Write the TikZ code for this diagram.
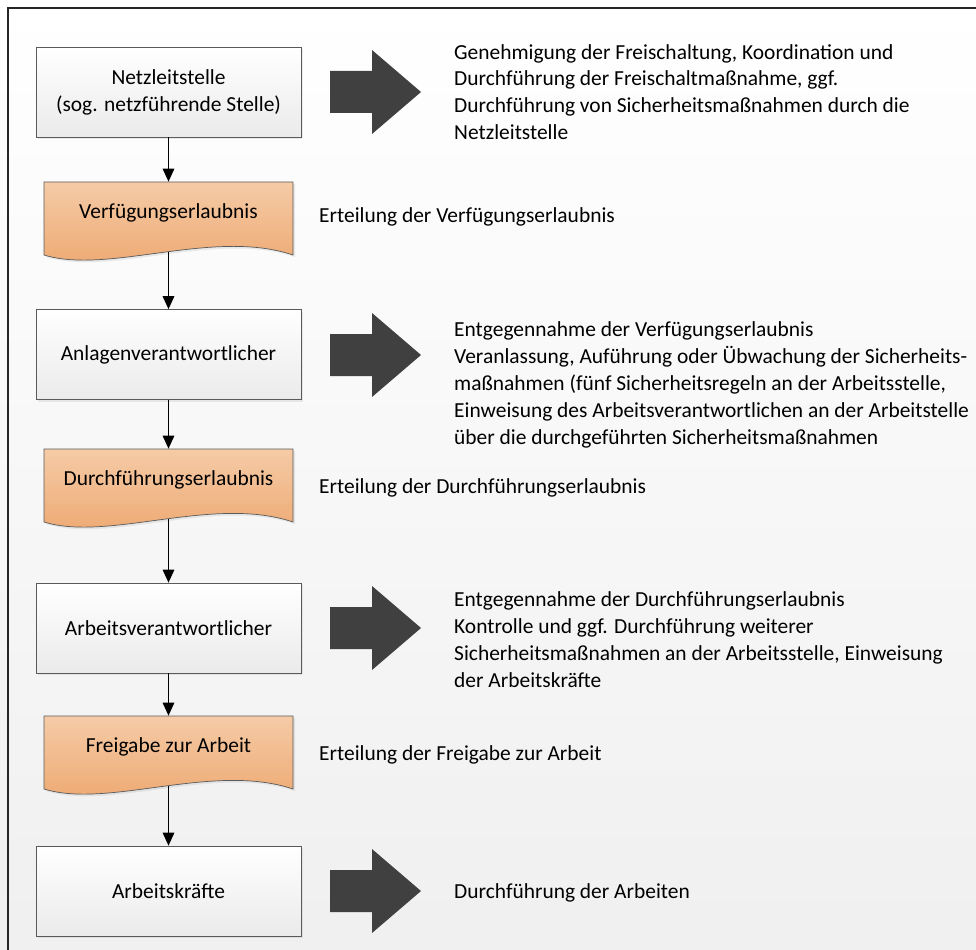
\documentclass[tikz,border=0pt]{standalone}
\usepackage{fontspec}
\setmainfont{Carlito}
\usetikzlibrary{arrows.meta, calc, shadows}

\definecolor{boxline}{HTML}{5A5A5A}
\definecolor{docTop}{HTML}{F5CBA7}
\definecolor{docBot}{HTML}{EDA66D}
\definecolor{bigarrow}{HTML}{404040}

\begin{document}
\begin{tikzpicture}[x=0.02cm, y=-0.02cm, >={Triangle[length=7.4pt, width=6.6pt]},
    stepbox/.style={draw=boxline, top color=white, bottom color=black!8,
        minimum width=5.3cm, minimum height=1.8cm, align=center,
        font=\fontsize{12.2}{15.3}\selectfont,
        drop shadow={shadow xshift=1.2pt, shadow yshift=-1.2pt, opacity=0.15}},
    doc/.style={draw=boxline, top color=docTop, bottom color=docBot,
        drop shadow={shadow xshift=1.2pt, shadow yshift=-1.2pt, opacity=0.15}},
    doctext/.style={minimum width=4.98cm, minimum height=1.24cm,
        font=\fontsize{12.2}{15.3}\selectfont},
    note/.style={anchor=west, align=left, font=\fontsize{12.2}{15.3}\selectfont},
    flow/.style={->, line width=0.75pt}]

    \useasboundingbox (0,0) rectangle (976,949);
    \fill[top color=white, bottom color=black!6] (0,0) rectangle (976,949);
    \draw[line width=1.2pt, black!85] (8,960) -- (8,8) -- (990,8);

    % Schritte
    \node[stepbox] (netz) at (168.5,92) {Netzleitstelle\\(sog. netzführende Stelle)};
    \node[stepbox] (anlage) at (168.5,354.5) {Anlagenverantwortlicher};
    \node[stepbox] (arbeitv) at (168.5,628) {Arbeitsverantwortlicher};
    \node[stepbox] (kraefte) at (168.5,891) {Arbeitskräfte};

    % Dokumente
    \foreach \t in {182, 449, 716}
        \path[doc] (44,\t) -- (293,\t) -- (293,\t+73)
            .. controls +(-80,-27) and +(65,20) .. (44,\t+73) -- cycle;
    \node[doctext] (verf) at (168.5,213) {Verfügungserlaubnis};
    \node[doctext] (durch) at (168.5,480) {Durchführungserlaubnis};
    \node[doctext] (freigabe) at (168.5,747) {Freigabe zur Arbeit};
    \coordinate (verf-w) at ($(verf.south)+(0,8)$);
    \coordinate (durch-w) at ($(durch.south)+(0,8)$);
    \coordinate (freigabe-w) at ($(freigabe.south)+(0,8)$);

    % Verbindungen
    \draw[flow] (netz.south) -- (verf.north);
    \draw[flow] (verf-w) -- (anlage.north);
    \draw[flow] (anlage.south) -- (durch.north);
    \draw[flow] (durch-w) -- (arbeitv.north);
    \draw[flow] (arbeitv.south) -- (freigabe.north);
    \draw[flow] (freigabe-w) -- (kraefte.north);

    % Blockpfeile
    \foreach \c in {92, 355, 628, 891}
        \fill[bigarrow] (330,\c-21) -- (372,\c-21) -- (372,\c-42) -- (421,\c)
            -- (372,\c+42) -- (372,\c+21) -- (330,\c+21) -- cycle;

    % Beschreibungen
    \node[note] (n-netz) at (448,92) {Genehmigung der Freischaltung, Koordination und\\
        Durchführung der Freischaltmaßnahme, ggf.\\
        Durchführung von Sicherheitsmaßnahmen durch die\\
        Netzleitstelle};
    \node[note] (n-verf) at (313,217) {Erteilung der Verfügungserlaubnis};
    \node[note] (n-anlage) at (448,385) {Entgegennahme der Verfügungserlaubnis\\
        Veranlassung, Auführung oder Übwachung der Sicherheits-\\
        maßnahmen (fünf Sicherheitsregeln an der Arbeitsstelle,\\
        Einweisung des Arbeitsverantwortlichen an der Arbeitstelle\\
        über die durchgeführten Sicherheitsmaßnahmen};
    \node[note] (n-durch) at (313,488) {Erteilung der Durchführungserlaubnis};
    \node[note] (n-arbeitv) at (448,639.5) {Entgegennahme der Durchführungserlaubnis\\
        Kontrolle und ggf. Durchführung weiterer\\
        Sicherheitsmaßnahmen an der Arbeitsstelle, Einweisung\\
        der Arbeitskräfte};
    \node[note] (n-freigabe) at (313,755) {Erteilung der Freigabe zur Arbeit};
    \node[note] (n-kraefte) at (448,893) {Durchführung der Arbeiten};
\end{tikzpicture}
\end{document}
